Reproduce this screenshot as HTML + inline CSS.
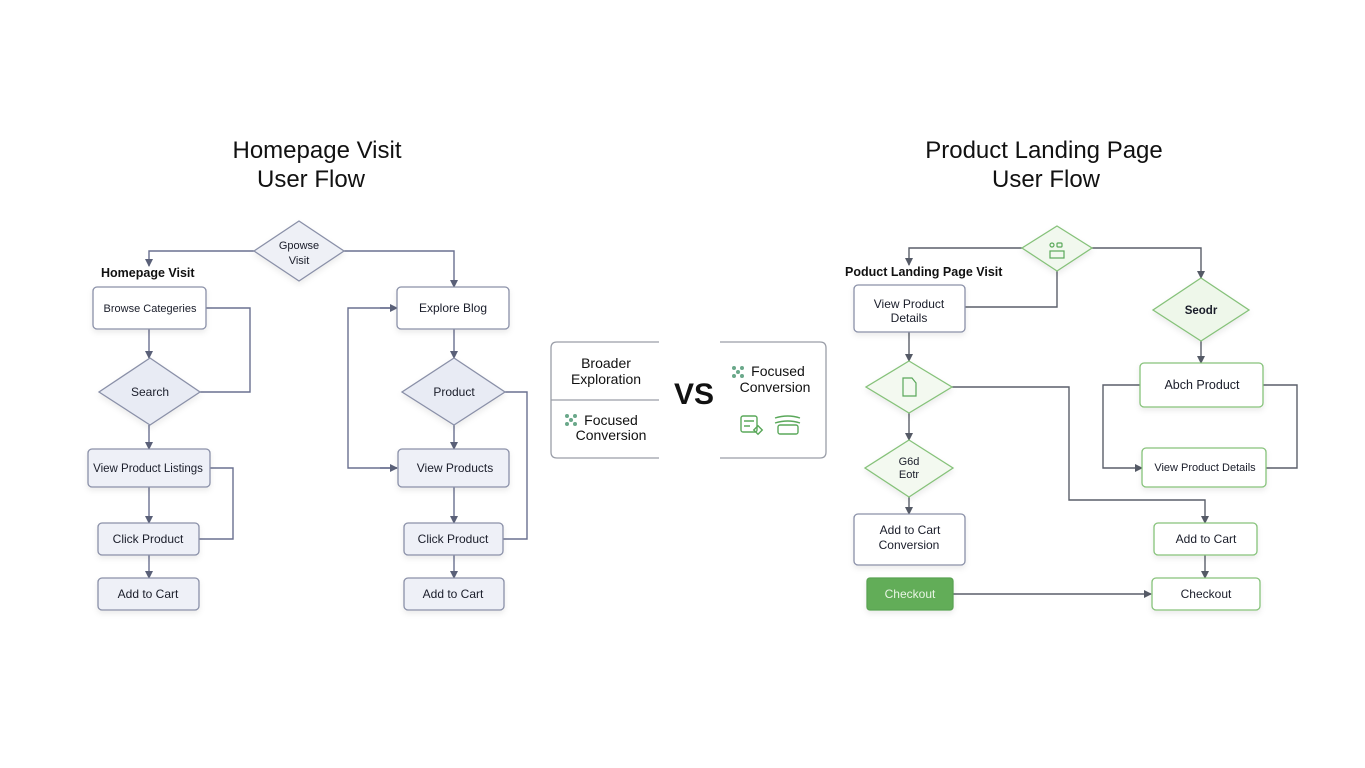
<!DOCTYPE html>
<html><head><meta charset="utf-8"><style>
html,body{margin:0;padding:0;background:#fff;}
svg{display:block;font-family:"Liberation Sans",sans-serif;}
</style></head><body>
<svg width="1365" height="768" viewBox="0 0 1365 768" xmlns="http://www.w3.org/2000/svg">
<defs>
<marker id="ab" markerWidth="8" markerHeight="8" refX="7" refY="4" orient="auto" markerUnits="userSpaceOnUse"><path d="M0,0 L8,4 L0,8 z" fill="#5a6078"/></marker>
<marker id="ag" markerWidth="8" markerHeight="8" refX="7" refY="4" orient="auto" markerUnits="userSpaceOnUse"><path d="M0,0 L8,4 L0,8 z" fill="#555a66"/></marker>
<filter id="sh" x="-20%" y="-20%" width="140%" height="160%"><feDropShadow dx="0" dy="3" stdDeviation="3" flood-color="#000" flood-opacity="0.08"/></filter>
</defs>

<g font-size="24" fill="#111" text-anchor="middle">
<text x="317" y="158">Homepage Visit</text>
<text x="311" y="187">User Flow</text>
<text x="1044" y="158">Product Landing Page</text>
<text x="1046" y="187">User Flow</text>
</g>

<g fill="none" stroke="#6a7090" stroke-width="1.4">
<path d="M254,251 H149 V266" marker-end="url(#ab)"/>
<path d="M344,251 H454 V287" marker-end="url(#ab)"/>
<path d="M149,329 V358" marker-end="url(#ab)"/>
<path d="M206,308 H250 V392 H200"/>
<path d="M149,425 V449" marker-end="url(#ab)"/>
<path d="M149,487 V523" marker-end="url(#ab)"/>
<path d="M210,468 H233 V539 H199"/>
<path d="M149,555 V578" marker-end="url(#ab)"/>
<path d="M454,329 V358" marker-end="url(#ab)"/>
<path d="M454,425 V449" marker-end="url(#ab)"/>
<path d="M454,487 V523" marker-end="url(#ab)"/>
<path d="M454,555 V578" marker-end="url(#ab)"/>
<path d="M397,308 H348 V468 H397" />
<path d="M380,308 H397" marker-end="url(#ab)"/>
<path d="M380,468 H397" marker-end="url(#ab)"/>
<path d="M505,392 H527 V539 H503"/>
</g>

<g stroke="#8a90a8" stroke-width="1.3" filter="url(#sh)">
<polygon points="299,221 344,251 299,281 254,251" fill="#eef0f6"/>
<rect x="93" y="287" width="113" height="42" rx="4" fill="#fff"/>
<polygon points="150,358 200,392 150,425 99,392" fill="#e8ebf4"/>
<rect x="88" y="449" width="122" height="38" rx="4" fill="#eef0f7"/>
<rect x="98" y="523" width="101" height="32" rx="4" fill="#eef0f7"/>
<rect x="98" y="578" width="101" height="32" rx="4" fill="#eef0f7"/>
<rect x="397" y="287" width="112" height="42" rx="4" fill="#fff"/>
<polygon points="454,358 505,392 454,425 402,392" fill="#e8ebf4"/>
<rect x="398" y="449" width="111" height="38" rx="4" fill="#eef0f7"/>
<rect x="404" y="523" width="99" height="32" rx="4" fill="#eef0f7"/>
<rect x="404" y="578" width="100" height="32" rx="4" fill="#eef0f7"/>
</g>
<g font-size="12" fill="#1a1d2a" text-anchor="middle">
<text x="299" y="249" font-size="11">Gpowse</text>
<text x="299" y="264" font-size="11">Visit</text>
<text x="150" y="312" font-size="11">Browse Categeries</text>
<text x="150" y="396">Search</text>
<text x="148" y="472" font-size="11.5">View Product Listings</text>
<text x="148" y="543">Click Product</text>
<text x="148" y="598">Add to Cart</text>
<text x="453" y="312">Explore Blog</text>
<text x="454" y="396">Product</text>
<text x="455" y="472">View Products</text>
<text x="453" y="543">Click Product</text>
<text x="453" y="598">Add to Cart</text>
</g>
<text x="101" y="277" font-size="12.5" font-weight="bold" fill="#111">Homepage Visit</text>

<g fill="none" stroke="#9a9ea8" stroke-width="1.3">
<path d="M659,342 H557 Q551,342 551,348 V452 Q551,458 557,458 H659"/>
<path d="M551,400 H659"/>
<path d="M720,342 H820 Q826,342 826,348 V452 Q826,458 820,458 H720"/>
</g>
<g font-size="14" fill="#111" text-anchor="middle">
<text x="606" y="368">Broader</text>
<text x="606" y="384">Exploration</text>
<text x="611" y="425">Focused</text>
<text x="611" y="440">Conversion</text>
<text x="778" y="376">Focused</text>
<text x="775" y="392">Conversion</text>
</g>
<text x="694" y="404" font-size="30" font-weight="bold" fill="#111" text-anchor="middle">VS</text>
<g fill="#6aa88a">
<circle cx="567" cy="416" r="2"/><circle cx="575" cy="416" r="2"/><circle cx="571" cy="420" r="2"/><circle cx="567" cy="424" r="2"/><circle cx="575" cy="424" r="2"/>
<circle cx="734" cy="368" r="2"/><circle cx="742" cy="368" r="2"/><circle cx="738" cy="372" r="2"/><circle cx="734" cy="376" r="2"/><circle cx="742" cy="376" r="2"/>
</g>
<g fill="none" stroke="#5aa85a" stroke-width="1.4">
<rect x="741" y="416" width="16" height="16" rx="2"/><path d="M744,421 H754 M744,426 H750"/>
<rect x="755" y="427" width="6" height="6" transform="rotate(45 758 430)"/>
<path d="M775,418 Q788,414 800,418 M775,423 Q788,419 800,423"/><rect x="778" y="425" width="20" height="9" rx="2"/>
</g>

<g fill="none" stroke="#5a5f6a" stroke-width="1.4">
<path d="M1022,248 H909 V265" marker-end="url(#ag)"/>
<path d="M1057,271 V307 H965"/>
<path d="M1092,248 H1201 V278" marker-end="url(#ag)"/>
<path d="M909,332 V361" marker-end="url(#ag)"/>
<path d="M909,413 V440" marker-end="url(#ag)"/>
<path d="M909,497 V514" marker-end="url(#ag)"/>
<path d="M952,387 H1069 V500 H1205 V523" marker-end="url(#ag)"/>
<path d="M953,594 H1151" marker-end="url(#ag)"/>
<path d="M1201,341 V363" marker-end="url(#ag)"/>
<path d="M1140,385 H1103 V468 H1142" marker-end="url(#ag)"/>
<path d="M1263,385 H1297 V468 H1266"/>
<path d="M1205,555 V578" marker-end="url(#ag)"/>
</g>

<g stroke-width="1.3" filter="url(#sh)">
<polygon points="1057,226 1092,248 1057,271 1022,248" fill="#f1f8ee" stroke="#86c27a"/>
<rect x="854" y="285" width="111" height="47" rx="4" fill="#fff" stroke="#8a90a8"/>
<polygon points="909,361 952,387 909,413 866,387" fill="#f3f9f0" stroke="#86c27a"/>
<polygon points="909,440 953,468 909,497 865,468" fill="#f3f9f0" stroke="#86c27a"/>
<rect x="854" y="514" width="111" height="51" rx="4" fill="#fff" stroke="#8a90a8"/>
<rect x="867" y="578" width="86" height="32" rx="3" fill="#62ad58" stroke="#5aa352"/>
<polygon points="1201,278 1249,310 1201,341 1153,310" fill="#eef7ea" stroke="#86c27a"/>
<rect x="1140" y="363" width="123" height="44" rx="4" fill="#fff" stroke="#86c27a"/>
<rect x="1142" y="448" width="124" height="39" rx="4" fill="#fff" stroke="#86c27a"/>
<rect x="1154" y="523" width="103" height="32" rx="4" fill="#fff" stroke="#86c27a"/>
<rect x="1152" y="578" width="108" height="32" rx="4" fill="#fff" stroke="#86c27a"/>
</g>
<g fill="none" stroke="#5aa85a" stroke-width="1.2">
<rect x="1050" y="251" width="14" height="7"/><circle cx="1052" cy="245" r="2"/><rect x="1057" y="243" width="5" height="4" rx="1"/>
<path d="M903,378 H912 L916,383 V396 H903 Z"/>
</g>
<g font-size="12" fill="#1a1d2a" text-anchor="middle">
<text x="909" y="308">View Product</text>
<text x="909" y="322">Details</text>
<text x="909" y="465" font-size="11">G6d</text>
<text x="909" y="478" font-size="11">Eotr</text>
<text x="910" y="534">Add to Cart</text>
<text x="909" y="549">Conversion</text>
<text x="1201" y="314" font-weight="bold" font-size="11.5">Seodr</text>
<text x="1202" y="389" font-size="12.5">Abch Product</text>
<text x="1205" y="471" font-size="11">View Product Details</text>
<text x="1206" y="543">Add to Cart</text>
<text x="1206" y="598">Checkout</text>
<text x="910" y="598" fill="#e8f5e4">Checkout</text>
</g>
<text x="845" y="276" font-size="12.5" font-weight="bold" fill="#111">Poduct Landing Page Visit</text>
</svg>
</body></html>
